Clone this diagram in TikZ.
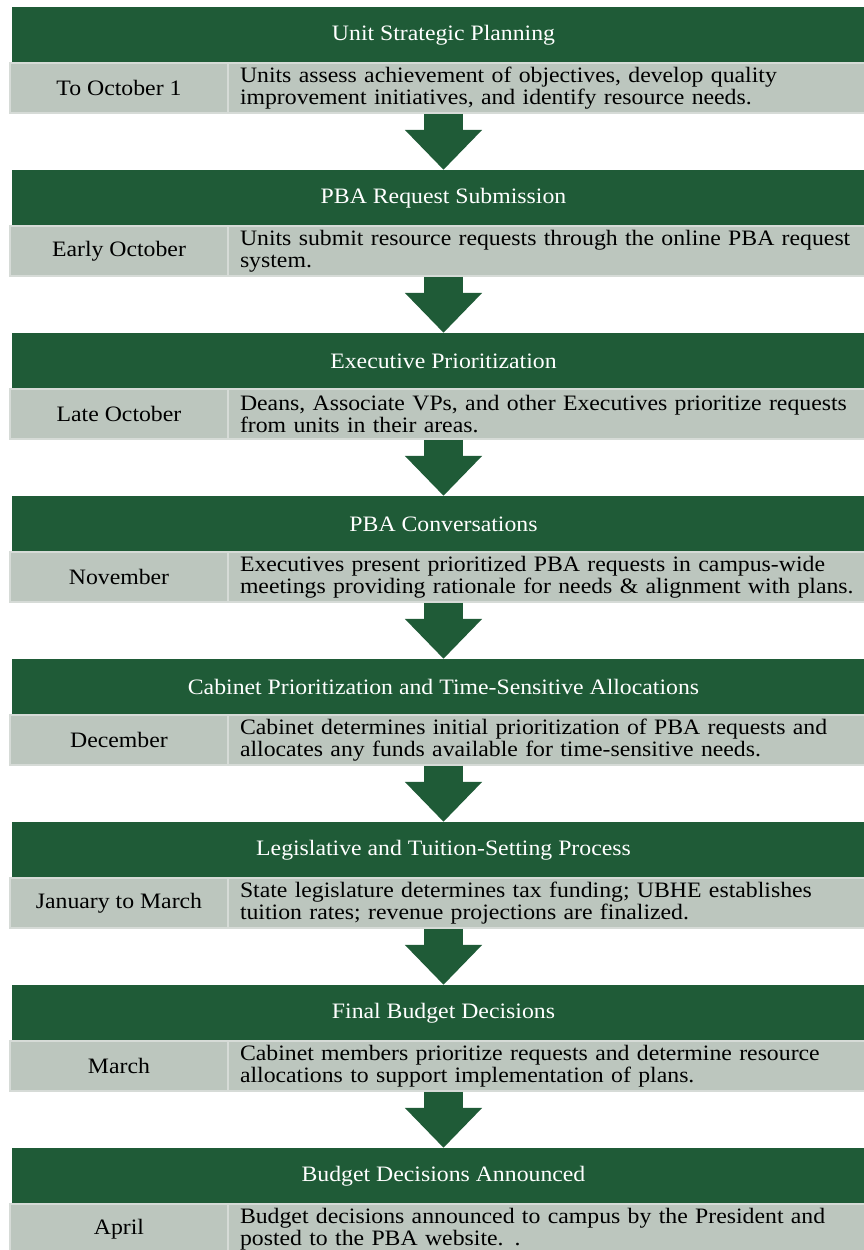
\documentclass[tikz,border=0pt]{standalone}
\usepackage{fontspec}
\setmainfont{Liberation Serif}[FakeStretch=1.08]
\usetikzlibrary{arrows.meta}

\definecolor{pbagreen}{RGB}{31,91,55}
\definecolor{pbagray}{RGB}{188,198,190}
\definecolor{pbaline}{RGB}{214,219,215}

\tikzset{
    hdrbox/.style={fill=pbagreen, text=white, minimum width=863pt, minimum height=56pt,
        inner sep=0pt, font=\fontsize{22}{22}\selectfont},
    datebox/.style={fill=pbagray, draw=pbaline, line width=1.5pt, minimum width=218pt,
        minimum height=50pt, inner sep=0pt, font=\fontsize{22}{22}\selectfont},
    descbox/.style={fill=pbagray, draw=pbaline, line width=1.5pt, minimum height=50pt,
        text width=640pt, inner xsep=12pt, inner ysep=0pt, align=left,
        font=\fontsize{22}{22}\selectfont},
    blockarrow/.style={draw=pbagreen, line width=39pt, -{Triangle[width=75pt,length=40pt]}}
}

\begin{document}
\begin{tikzpicture}[x=1pt,y=-1pt]
    \useasboundingbox (0,0) rectangle (863,1250);

    \node[hdrbox] (hdr1) at (443.5,35) {Unit Strategic Planning};
    \node[datebox] (date1) at (119,88) {To October 1};
    \node[descbox] (desc1) at (560,88) {Units assess achievement of objectives, develop quality\\improvement initiatives, and identify resource needs.};

    \node[hdrbox] (hdr2) at (443.5,198) {PBA Request Submission};
    \node[datebox] (date2) at (119,251) {Early October};
    \node[descbox] (desc2) at (560,251) {Units submit resource requests through the online PBA request\\system.};

    \node[hdrbox] (hdr3) at (443.5,361) {Executive Prioritization};
    \node[datebox] (date3) at (119,414) {Late October};
    \node[descbox] (desc3) at (560,414) {Deans, Associate VPs, and other Executives prioritize requests\\from units in their areas.};

    \node[hdrbox] (hdr4) at (443.5,524) {PBA Conversations};
    \node[datebox] (date4) at (119,577) {November};
    \node[descbox] (desc4) at (560,577) {Executives present prioritized PBA requests in campus-wide\\meetings providing rationale for needs \& alignment with plans.};

    \node[hdrbox] (hdr5) at (443.5,687) {Cabinet Prioritization and Time-Sensitive Allocations};
    \node[datebox] (date5) at (119,740) {December};
    \node[descbox] (desc5) at (560,740) {Cabinet determines initial prioritization of PBA requests and\\allocates any funds available for time-sensitive needs.};

    \node[hdrbox] (hdr6) at (443.5,850) {Legislative and Tuition-Setting Process};
    \node[datebox] (date6) at (119,903) {January to March};
    \node[descbox] (desc6) at (560,903) {State legislature determines tax funding; UBHE establishes\\tuition rates; revenue projections are finalized.};

    \node[hdrbox] (hdr7) at (443.5,1013) {Final Budget Decisions};
    \node[datebox] (date7) at (119,1066) {March};
    \node[descbox] (desc7) at (560,1066) {Cabinet members prioritize requests and determine resource\\allocations to support implementation of plans.};

    \node[hdrbox] (hdr8) at (443.5,1176) {Budget Decisions Announced};
    \node[datebox] (date8) at (119,1229) {April};
    \node[descbox] (desc8) at (560,1229) {Budget decisions announced to campus by the President and\\posted to the PBA website. .};

    \draw[blockarrow] (hdr1 |- desc1.south) -- (hdr2.north);
    \draw[blockarrow] (hdr2 |- desc2.south) -- (hdr3.north);
    \draw[blockarrow] (hdr3 |- desc3.south) -- (hdr4.north);
    \draw[blockarrow] (hdr4 |- desc4.south) -- (hdr5.north);
    \draw[blockarrow] (hdr5 |- desc5.south) -- (hdr6.north);
    \draw[blockarrow] (hdr6 |- desc6.south) -- (hdr7.north);
    \draw[blockarrow] (hdr7 |- desc7.south) -- (hdr8.north);
\end{tikzpicture}
\end{document}
